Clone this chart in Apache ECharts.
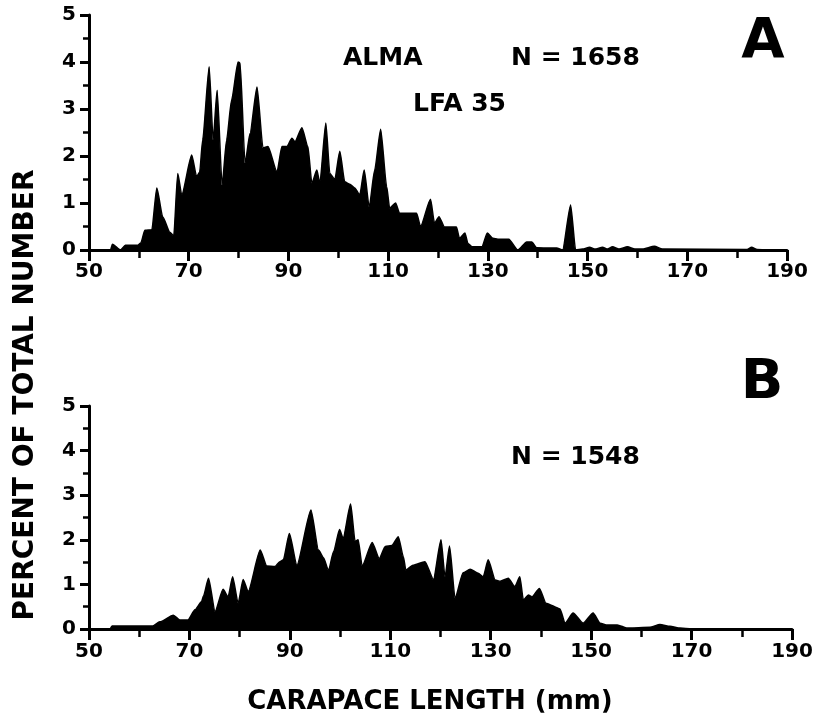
<!DOCTYPE html>
<html><head><meta charset="utf-8">
<script src="https://cdn.jsdelivr.net/npm/echarts@6/dist/echarts.min.js"></script>
<style>html,body{margin:0;padding:0;background:#fff}#c{width:830px;height:725px}</style>
</head><body><div id="c"></div>
<script>
// Panel A: ALMA, LFA 35, N = 1658 — polygon vertices
// carapace length (mm)
const lengthsA = [
  50, 54.3, 54.7, 56.3, 57.3, 59.8, 60.4, 61.2, 62.6, 63.6,
  64.8, 66.2, 67.0, 67.8, 68.6, 70.6, 71.6, 72.2, 72.8, 74.1,
  74.9, 75.7, 76.7, 77.6, 78.6, 79.9, 80.3, 81.3, 82.3, 83.7,
  84.9, 85.9, 87.7, 88.7, 89.7, 90.7, 91.3, 92.7, 93.9, 94.7,
  95.7, 96.3, 97.5, 98.3, 99.3, 100.3, 101.3, 102.3, 103.3, 104.3,
  105.2, 106.2, 107.3, 108.5, 109.7, 110.3, 111.5, 112.3, 115.7, 116.5,
  118.5, 119.3, 120.2, 121.3, 123.7, 124.3, 125.4, 126.0, 126.8, 128.8,
  129.9, 131.0, 132.0, 134.2, 136.0, 137.8, 138.8, 139.8, 143.8, 145.0,
  146.6, 147.6, 149.0, 150.4, 151.5, 153.0, 154.0, 155.0, 156.3, 158.0,
  159.5, 161.0, 163.4, 165.0, 182.0, 182.9, 184.0, 186.0, 190
];
// percent of total number
const percentA = [
  0, 0, 0.12, 0, 0.1, 0.1, 0.15, 0.42, 0.43, 1.32,
  0.7, 0.38, 0.3, 1.63, 1.17, 2.02, 1.56, 1.66, 2.34, 3.9,
  2.34, 3.4, 1.38, 2.34, 3.19, 4.0, 3.98, 1.85, 2.48, 3.47,
  2.17, 2.2, 1.66, 2.2, 2.2, 2.38, 2.3, 2.6, 2.2, 1.42,
  1.7, 1.42, 2.7, 1.63, 1.5, 2.1, 1.45, 1.4, 1.32, 1.17,
  1.7, 0.91, 1.7, 2.57, 1.35, 0.89, 1.0, 0.78, 0.78, 0.5,
  1.08, 0.57, 0.71, 0.49, 0.49, 0.25, 0.36, 0.14, 0.07, 0.07,
  0.36, 0.25, 0.23, 0.23, 0.0, 0.17, 0.17, 0.05, 0.04, 0,
  0.96, 0, 0.02, 0.06, 0.02, 0.06, 0.02, 0.07, 0.02, 0.07,
  0.02, 0.02, 0.08, 0.02, 0.01, 0.06, 0.01, 0, 0
];

// Panel B: N = 1548
const lengthsB = [
  50, 54.2, 54.6, 62.7, 64.1, 66.8, 68.1, 69.7, 71.1, 72.4,
  72.8, 73.8, 75.1, 76.7, 77.7, 78.6, 79.7, 80.7, 81.7, 84.1,
  85.4, 87.0, 88.0, 88.7, 89.9, 91.4, 94.2, 95.7, 96.7, 97.7,
  98.7, 99.9, 100.6, 102.1, 103.0, 103.6, 104.4, 106.4, 107.8, 109.0,
  110.3, 111.6, 112.6, 113.1, 114.5, 116.9, 118.6, 120.1, 120.9, 121.8,
  122.9, 124.5, 125.9, 127.5, 128.5, 129.5, 130.9, 131.9, 133.5, 134.8,
  135.8, 136.5, 137.5, 138.2, 139.7, 141.0, 143.8, 144.8, 146.4, 148.4,
  150.4, 151.8, 153.2, 155.2, 157.2, 161.7, 163.7, 165.7, 167.7, 170.0,
  190
];
const percentB = [
  0, 0, 0.07, 0.07, 0.16, 0.31, 0.2, 0.2, 0.43, 0.61,
  0.74, 1.14, 0.39, 0.89, 0.72, 1.17, 0.58, 1.11, 0.84, 1.77,
  1.41, 1.4, 1.51, 1.55, 2.14, 1.43, 2.67, 1.77, 1.6, 1.31,
  1.73, 2.23, 2.03, 2.8, 1.96, 2.0, 1.41, 1.94, 1.58, 1.85,
  1.87, 2.07, 1.62, 1.32, 1.43, 1.51, 1.11, 2.0, 1.17, 1.86,
  0.69, 1.26, 1.34, 1.25, 1.17, 1.55, 1.1, 1.07, 1.14, 0.95,
  1.17, 0.65, 0.76, 0.72, 0.91, 0.58, 0.45, 0.13, 0.36, 0.13,
  0.36, 0.13, 0.09, 0.09, 0.02, 0.04, 0.1, 0.06, 0.02, 0,
  0
];

const xTickLabels = [50, 70, 90, 110, 130, 150, 170, 190];
const yTickLabels = [0, 1, 2, 3, 4, 5];

const FONT = '"DejaVu Sans", Verdana, sans-serif';
const labelStyle = {color: '#000', fontFamily: FONT, fontWeight: 'bold', fontSize: 20};

function xAxisDef(gridIndex, margin) {
  return {
    type: 'value', gridIndex, min: xTickLabels[0], max: xTickLabels[xTickLabels.length - 1],
    interval: 20,
    axisLine: {show: true, onZero: false, lineStyle: {color: '#000', width: 3}},
    axisTick: {show: true, length: 11, lineStyle: {color: '#000', width: 3}},
    minorTick: {show: true, splitNumber: 2, length: 8, lineStyle: {color: '#000', width: 2.5}},
    splitLine: {show: false}, minorSplitLine: {show: false},
    axisLabel: Object.assign({margin: margin, formatter: v => xTickLabels.includes(v) ? String(v) : ''}, labelStyle)
  };
}
function yAxisDef(gridIndex) {
  return {
    type: 'value', gridIndex, min: yTickLabels[0], max: yTickLabels[yTickLabels.length - 1], interval: 1,
    axisLine: {show: true, onZero: false, lineStyle: {color: '#000', width: 3}},
    axisTick: {show: true, length: 9, lineStyle: {color: '#000', width: 3}},
    minorTick: {show: true, splitNumber: 2, length: 6, lineStyle: {color: '#000', width: 2.5}},
    splitLine: {show: false}, minorSplitLine: {show: false},
    axisLabel: Object.assign({margin: 13, formatter: v => yTickLabels.includes(v) ? String(v) : ''}, labelStyle)
  };
}
function seriesDef(idx, xs, values) {
  return {
    type: 'line', xAxisIndex: idx, yAxisIndex: idx,
    data: xs.map((x, i) => [x, values[i]]),
    symbol: 'none', smooth: 0.2, smoothMonotone: 'x', silent: true,
    lineStyle: {color: '#000', width: 1.5},
    areaStyle: {color: '#000', opacity: 1},
    z: 1
  };
}
function txt(text, x, y, size, align) {
  return {type: 'text', x: x, y: y, style: {text: text, font: 'bold ' + size + 'px ' + FONT,
    fill: '#000', textAlign: align || 'left', textVerticalAlign: 'middle'}};
}

const chart = echarts.init(document.getElementById('c'), null, {renderer: 'canvas'});
chart.setOption({
  animation: false,
  backgroundColor: '#fff',
  grid: [
    {left: 89, top: 15, width: 698, height: 235},
    {left: 89, top: 406, width: 703, height: 223}
  ],
  xAxis: [xAxisDef(0, 12), xAxisDef(1, 13)],
  yAxis: [yAxisDef(0), yAxisDef(1)],
  series: [seriesDef(0, lengthsA, percentA), seriesDef(1, lengthsB, percentB)],
  graphic: [
    txt('ALMA', 343, 58, 25),
    txt('N = 1658', 511, 58, 25),
    txt('LFA 35', 413, 104, 25),
    txt('A', 763, 42, 56, 'center'),
    txt('B', 762, 383, 56, 'center'),
    txt('N = 1548', 511, 457, 25),
    txt('CARAPACE LENGTH (mm)', 430, 702, 26, 'center'),
    {type: 'text', x: 26, y: 395, rotation: Math.PI / 2,
     style: {text: 'PERCENT OF TOTAL NUMBER', font: 'bold 28px ' + FONT, fill: '#000',
             textAlign: 'center', textVerticalAlign: 'middle'}}
  ]
});
</script></body></html>
